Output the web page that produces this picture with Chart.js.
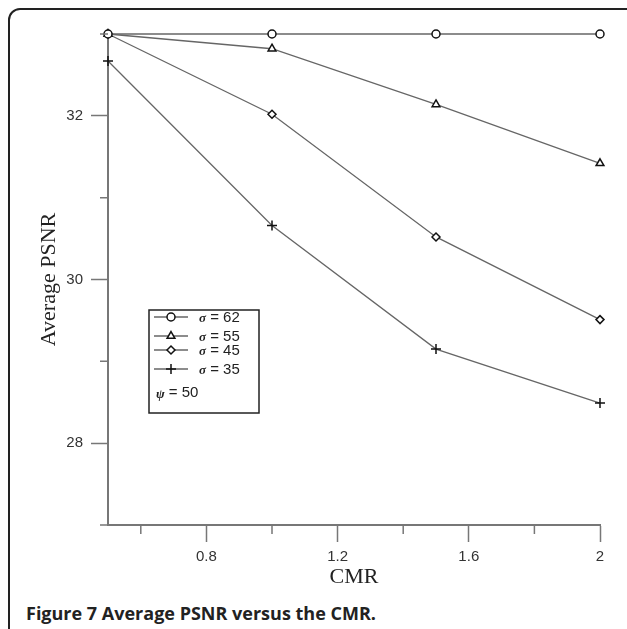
<!DOCTYPE html>
<html lang="en">
<head>
<meta charset="UTF-8">
<title>Average PSNR versus the CMR</title>
<script src="https://cdn.jsdelivr.net/npm/chart.js"></script>
<style>
  html, body { margin: 0; padding: 0; background: #fff; }
  body { width: 627px; height: 629px; position: relative; overflow: hidden; }
  .frame { position: absolute; left: 8px; top: 8px; width: 628px; height: 640px;
           border: 2px solid #222; border-radius: 12px; }
  #wrap { position: absolute; left: 0; top: 0; width: 627px; height: 590px; }
  .caption { position: absolute; left: 26px; top: 601px; font-family: "Open Sans", sans-serif;
             font-weight: 700; font-size: 18px; color: #222; white-space: nowrap; }
</style>
</head>
<body>
<div class="frame"></div>
<div id="wrap"><canvas id="psnrChart"></canvas></div>
<div class="caption">Figure 7 Average PSNR versus the CMR.</div>

<script>
// values
const cmr = [0.5, 1.0, 1.5, 2.0];
const sigma62 = [33, 33, 33, 33];
const sigma55 = [33, 32.82, 32.14, 31.42];
const sigma45 = [33, 32.02, 30.52, 29.51];
const sigma35 = [32.67, 30.66, 29.15, 28.49];
const seriesLabels = ['σ = 62', 'σ = 55', 'σ = 45', 'σ = 35'];
const markers = ['circle', 'triangle', 'rectRot', 'cross'];
const markerSizes = [4, 4.5, 4, 5];
const legendNote = 'ψ = 50';

const xTickLabels = [0.8, 1.2, 1.6, 2];
const xMinorTicks = [0.6, 1.0, 1.4, 1.8];
const yTickLabels = [28, 30, 32];
const yMinorTicks = [27, 29, 31, 33];

const axisColor = '#777';

function toPoints(vals) {
    return cmr.map((x, i) => ({ x: x, y: vals[i] }));
}

const allSeries = [sigma62, sigma55, sigma45, sigma35];
const datasets = allSeries.map((vals, i) => ({
    label: seriesLabels[i],
    data: toPoints(vals),
    borderColor: '#666',
    borderWidth: 1.3,
    pointStyle: markers[i],
    pointRadius: markerSizes[i],
    pointBorderColor: '#111',
    pointBackgroundColor: '#fff',
    pointBorderWidth: 1.5,
    tension: 0,
    clip: false
}));

// short ticks between the labelled ones
const minorTicks = {
    id: 'minorTicks',
    afterDraw(chart) {
        const ctx = chart.ctx;
        const xs = chart.scales.x, ys = chart.scales.y;
        ctx.save();
        ctx.strokeStyle = axisColor;
        ctx.lineWidth = 1.5;
        ctx.beginPath();
        xMinorTicks.forEach(v => {
            const px = xs.getPixelForValue(v);
            ctx.moveTo(px, xs.top);
            ctx.lineTo(px, xs.top + 9);
        });
        yMinorTicks.forEach(v => {
            const py = ys.getPixelForValue(v);
            ctx.moveTo(ys.right, py);
            ctx.lineTo(ys.right - 8, py);
        });
        ctx.stroke();
        ctx.restore();
    }
};

// boxed legend inside the plot
const boxLegend = {
    id: 'boxLegend',
    afterDraw(chart) {
        const ctx = chart.ctx;
        const rows = [317, 336, 350, 369];
        ctx.save();
        ctx.strokeStyle = '#222';
        ctx.lineWidth = 1.5;
        ctx.strokeRect(149, 310, 110, 103);

        chart.data.datasets.forEach((ds, i) => {
            const y = rows[i];
            ctx.strokeStyle = ds.borderColor;
            ctx.lineWidth = ds.borderWidth;
            ctx.beginPath();
            ctx.moveTo(154, y);
            ctx.lineTo(188, y);
            ctx.stroke();

            ctx.strokeStyle = ds.pointBorderColor;
            ctx.fillStyle = ds.pointBackgroundColor;
            ctx.lineWidth = ds.pointBorderWidth;
            Chart.helpers.drawPoint(ctx, {
                pointStyle: ds.pointStyle,
                radius: ds.pointRadius,
                borderWidth: ds.pointBorderWidth,
                rotation: 0
            }, 171, y);

            const sym = ds.label.charAt(0);
            const rest = ds.label.slice(1);
            ctx.fillStyle = '#222';
            ctx.textBaseline = 'middle';
            ctx.font = 'italic bold 13px "Liberation Serif"';
            ctx.fillText(sym, 199, y + 2);
            const w = ctx.measureText(sym).width;
            ctx.font = '15px "Liberation Sans"';
            ctx.fillText(rest, 199 + w, y + 1);
        });

        const sym = legendNote.charAt(0);
        ctx.font = 'italic bold 13px "Liberation Serif"';
        ctx.fillText(sym, 156, 395);
        const w = ctx.measureText(sym).width;
        ctx.font = '15px "Liberation Sans"';
        ctx.fillText(legendNote.slice(1), 156 + w, 393);
        ctx.restore();
    }
};

new Chart('psnrChart', {
    type: 'line',
    data: { datasets: datasets },
    options: {
        responsive: true,
        maintainAspectRatio: false,
        animation: false,
        layout: { padding: { top: 34, right: 27, left: 0, bottom: 0 } },
        plugins: {
            legend: { display: false },
            tooltip: { enabled: false }
        },
        scales: {
            x: {
                type: 'linear',
                min: 0.5,
                max: 2,
                afterBuildTicks: s => { s.ticks = xTickLabels.map(v => ({ value: v })); },
                afterFit: s => { s.height = 65; },
                ticks: {
                    callback: v => String(v),
                    font: { family: 'Liberation Sans', size: 15 },
                    color: '#333',
                    padding: 6,
                    maxRotation: 0,
                    autoSkip: false
                },
                grid: { drawOnChartArea: false, tickLength: 17, tickColor: axisColor, tickWidth: 1.5 },
                border: { color: axisColor, width: 2 },
                title: {
                    display: true,
                    text: 'CMR',
                    font: { family: 'Liberation Serif', size: 22 },
                    color: '#222',
                    padding: 0
                }
            },
            y: {
                min: 27,
                max: 33,
                afterBuildTicks: s => { s.ticks = yTickLabels.map(v => ({ value: v })); },
                afterFit: s => { s.width = 108; },
                ticks: {
                    callback: v => String(v),
                    font: { family: 'Liberation Sans', size: 15 },
                    color: '#333',
                    padding: 8
                },
                grid: { drawOnChartArea: false, tickLength: 17, tickColor: axisColor, tickWidth: 1.5 },
                border: { color: axisColor, width: 2 },
                title: {
                    display: true,
                    text: 'Average PSNR',
                    font: { family: 'Liberation Serif', size: 22 },
                    color: '#222',
                    padding: { top: 36 }
                }
            }
        }
    },
    plugins: [minorTicks, boxLegend]
});
</script>
</body>
</html>
